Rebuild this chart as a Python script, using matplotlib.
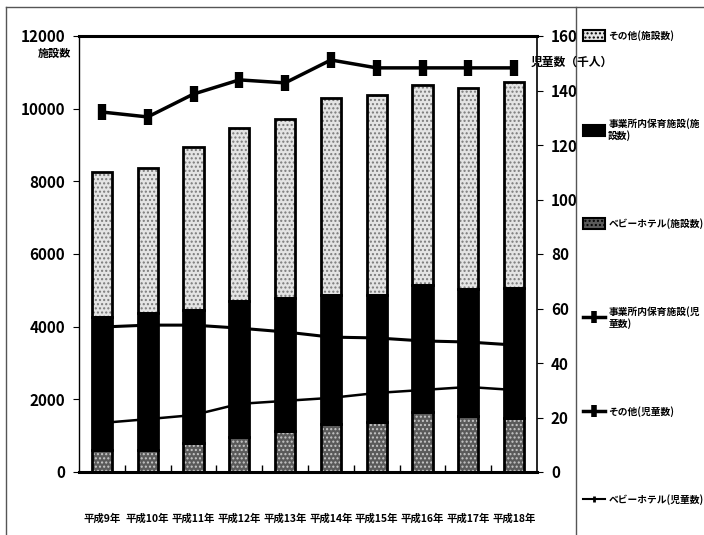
import matplotlib
matplotlib.use("Agg")
import matplotlib.pyplot as plt
from matplotlib.patches import Patch
from matplotlib.lines import Line2D

plt.rcParams['font.family'] = ['Noto Sans CJK JP', 'DejaVu Sans']
plt.rcParams['font.weight'] = 'bold'
plt.rcParams['hatch.linewidth'] = 1.0

# data
years = ['平成9年', '平成10年', '平成11年', '平成12年', '平成13年',
         '平成14年', '平成15年', '平成16年', '平成17年', '平成18年']
# facilities (施設数)
baby_hotel_fac = [605, 605, 800, 960, 1130, 1320, 1375, 1650, 1540, 1485]
jigyosho_fac = [3660, 3770, 3655, 3745, 3660, 3550, 3495, 3495, 3495, 3575]
sonota_fac = [3985, 3985, 4485, 4755, 4920, 5420, 5500, 5505, 5525, 5670]
# children (児童数, thousands)
jigyosho_chi = [53.2, 53.9, 53.9, 52.8, 51.4, 49.5, 49.2, 48.1, 47.7, 46.6]
sonota_chi = [132.1, 130.3, 138.7, 143.9, 142.8, 151.2, 148.3, 148.3, 148.3, 148.3]
baby_hotel_chi = [18.0, 19.4, 20.9, 25.0, 26.1, 27.2, 29.0, 30.1, 31.2, 30.1]

x = list(range(len(years)))
w = 0.44

fig = plt.figure(figsize=(7.04, 5.35), dpi=100)
ax = fig.add_axes([79/704, 1-472/535, 458/704, 436/535])
ax2 = ax.twinx()
ax.set_zorder(ax2.get_zorder() + 1)
ax.patch.set_visible(False)

# stacked bars
bottom2 = baby_hotel_fac
bottom3 = [a + b for a, b in zip(baby_hotel_fac, jigyosho_fac)]
ax.bar(x, baby_hotel_fac, w, color='#5a5a5a', hatch='....', edgecolor='#c8c8c8', linewidth=0)
ax.bar(x, jigyosho_fac, w, bottom=bottom2, color='black', linewidth=0)
ax.bar(x, sonota_fac, w, bottom=bottom3, color='#e4e4e4', hatch='....', edgecolor='#7a7a7a', linewidth=0)
for vals, bot in [(baby_hotel_fac, None), (jigyosho_fac, bottom2), (sonota_fac, bottom3)]:
    ax.bar(x, vals, w, bottom=bot, fill=False, edgecolor='black', linewidth=2)

# lines on right axis
ax2.plot(x, sonota_chi, color='black', lw=2.5, marker='|', ms=11, mew=6)
ax2.plot(x, jigyosho_chi, color='black', lw=2.2, marker='|', ms=11, mew=6)
ax2.plot(x, baby_hotel_chi, color='black', lw=1.8, marker='|', ms=6, mew=3)

ax.set_xlim(-0.5, 9.5)
ax.set_ylim(0, 12000)
ax.set_yticks(range(0, 12001, 2000))
ax2.set_ylim(0, 160)
ax2.set_yticks(range(0, 161, 20))

ax.set_xticks(x)
ax.set_xticklabels(years, fontsize=7.5)
ax.set_xticks([i + 0.5 for i in range(9)], minor=True)
ax.tick_params(axis='x', which='major', length=0, pad=30)
ax.tick_params(axis='x', which='minor', direction='in', length=5, width=1)
ax.tick_params(axis='y', direction='out', length=4, labelsize=11, pad=6)
ax2.tick_params(axis='y', direction='out', length=4, labelsize=11, pad=6)

for s in ['top', 'bottom']:
    ax.spines[s].set_linewidth(2.2)
ax.spines['left'].set_linewidth(1)
ax.spines['right'].set_visible(False)
for s in ['top', 'bottom', 'left']:
    ax2.spines[s].set_visible(False)
ax2.spines['right'].set_linewidth(1.2)

fig.text(71/704, 1-53/535, '施設数', ha='right', va='center', fontsize=8)
fig.text(572/704, 1-62/535, '児童数（千人）', ha='center', va='center', fontsize=8.5)

# outer frame
fc = '#555555'
fig.add_artist(Line2D([6/704, 6/704], [0, 1-7/535], color=fc, lw=1))
fig.add_artist(Line2D([6/704, 1], [1-7/535, 1-7/535], color=fc, lw=1))
fig.add_artist(Line2D([576/704, 576/704], [0, 1-7/535], color=fc, lw=1))

handles = [
    Patch(facecolor='#e4e4e4', hatch='....', edgecolor='black', linewidth=1.5),
    Patch(facecolor='black', edgecolor='black', linewidth=1.5),
    Patch(facecolor='#5a5a5a', hatch='....', edgecolor='black', linewidth=1.5),
    Line2D([], [], color='black', lw=2.5, marker='|', ms=9, mew=4),
    Line2D([], [], color='black', lw=2.5, marker='|', ms=9, mew=4),
    Line2D([], [], color='black', lw=1.5, marker='|', ms=5, mew=2),
]
labels = ['その他(施設数)', '事業所内保育施設(施\n設数)', 'ベビーホテル(施設数)',
          '事業所内保育施設(児\n童数)', 'その他(児童数)', 'ベビーホテル(児童数)']
fig.legend(handles, labels, loc='upper left', bbox_to_anchor=(579/704, 1-26/535),
           frameon=False, fontsize=7, handlelength=2.3, handleheight=1.4,
           handletextpad=0.3, labelspacing=7.9, borderaxespad=0)

fig.savefig('out.png', dpi=100)
